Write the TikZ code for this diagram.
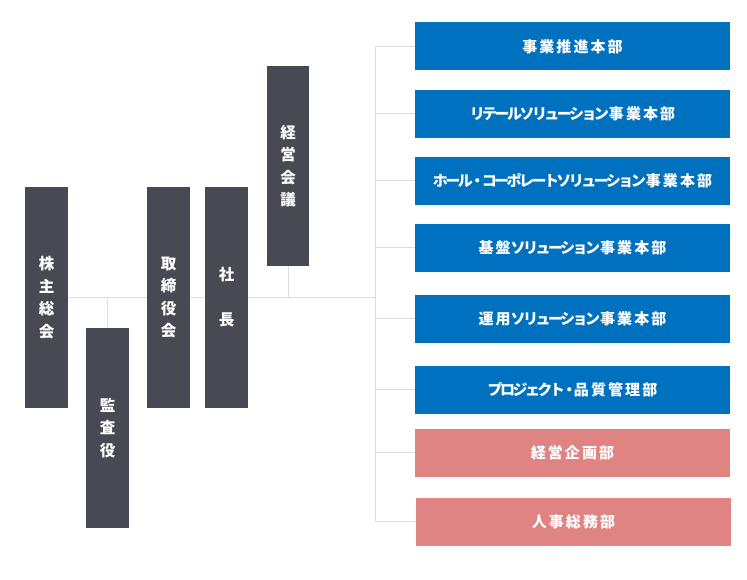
\documentclass[tikz,border=0pt]{standalone}
\usepackage{fontspec}
\setmainfont{Noto Sans CJK JP}
\newfontfamily\deptfont{Noto Sans CJK JP}[LetterSpace=14]
\newfontfamily\kanafont{Noto Sans CJK JP}[LetterSpace=-17]
\newcommand\kana[1]{{\kanafont #1}}
\newcommand\nakaguro{\kern-3pt・\kern-3pt}
\usetikzlibrary{positioning,calc}
\definecolor{boardgray}{RGB}{71,74,83}
\definecolor{deptblue}{RGB}{0,113,191}
\definecolor{staffpink}{RGB}{223,131,131}
\definecolor{linegray}{RGB}{222,222,222}

\begin{document}
\begin{tikzpicture}[x=1pt,y=-1pt,
    post/.style={fill=boardgray, text=white, minimum width=43pt, inner sep=0pt,
        align=center, font=\bfseries\fontsize{15.5}{22.5}\selectfont},
    dept/.style={fill=deptblue, text=white, minimum width=315pt, minimum height=48pt,
        inner sep=0pt, font=\deptfont\bfseries\fontsize{15}{16}\selectfont},
    staff/.style={dept, fill=staffpink},
    link/.style={draw=linegray, line width=1pt}]
    \useasboundingbox (0,0) rectangle (747,580);

    % Board side
    \node [post, minimum height=221pt] (kabu) at (46.5, 297.5) {株\\主\\総\\会};
    \node [post, minimum height=200pt] (kansa) at (107.5, 428) {監\\査\\役};
    \node [post, minimum height=221pt] (torishimari) at (168.5, 297.5) {取\\締\\役\\会};
    \node [post, minimum height=221pt] (shacho) at (226.5, 297.5) {社\\[22.5pt]長};
    \node [post, minimum width=42pt, minimum height=200pt] (keiei) at (288, 166) {経\\営\\会\\議};

    % Divisions
    \node [dept] (d1) at (572.5, 46.5) {事業推進本部};
    \node [dept] (d2) at (572.5, 114) {\kana{リテールソリューション}事業本部};
    \node [dept] (d3) at (572.5, 181) {\kana{ホール\nakaguro コーポレートソリューション}事業本部};
    \node [dept] (d4) at (572.5, 248) {基盤\kana{ソリューション}事業本部};
    \node [dept] (d5) at (572.5, 318.5) {運用\kana{ソリューション}事業本部};
    \node [dept] (d6) at (572.5, 389.5) {\kana{プロジェクト\nakaguro}品質管理部};
    \node [staff] (d7) at (572.5, 452.5) {経営企画部};
    \node [staff] (d8) at (573.5, 521.5) {人事総務部};

    % Lines
    \coordinate (trunk) at (375, 297.5);
    \draw [link] (kabu.east) -- (torishimari.west);
    \draw [link] (torishimari.east) -- (shacho.west);
    \draw [link] (shacho.east) -- (trunk);
    \draw [link] (kabu.east -| kansa.north) -- (kansa.north);
    \draw [link] (keiei.south) -- (keiei.south |- trunk);
    \draw [link] (d1.west -| trunk) -- (d8.west -| trunk);
    \foreach \i in {1,...,8}
        \draw [link] (d\i.west) -- (d\i.west -| trunk);
\end{tikzpicture}
\end{document}
